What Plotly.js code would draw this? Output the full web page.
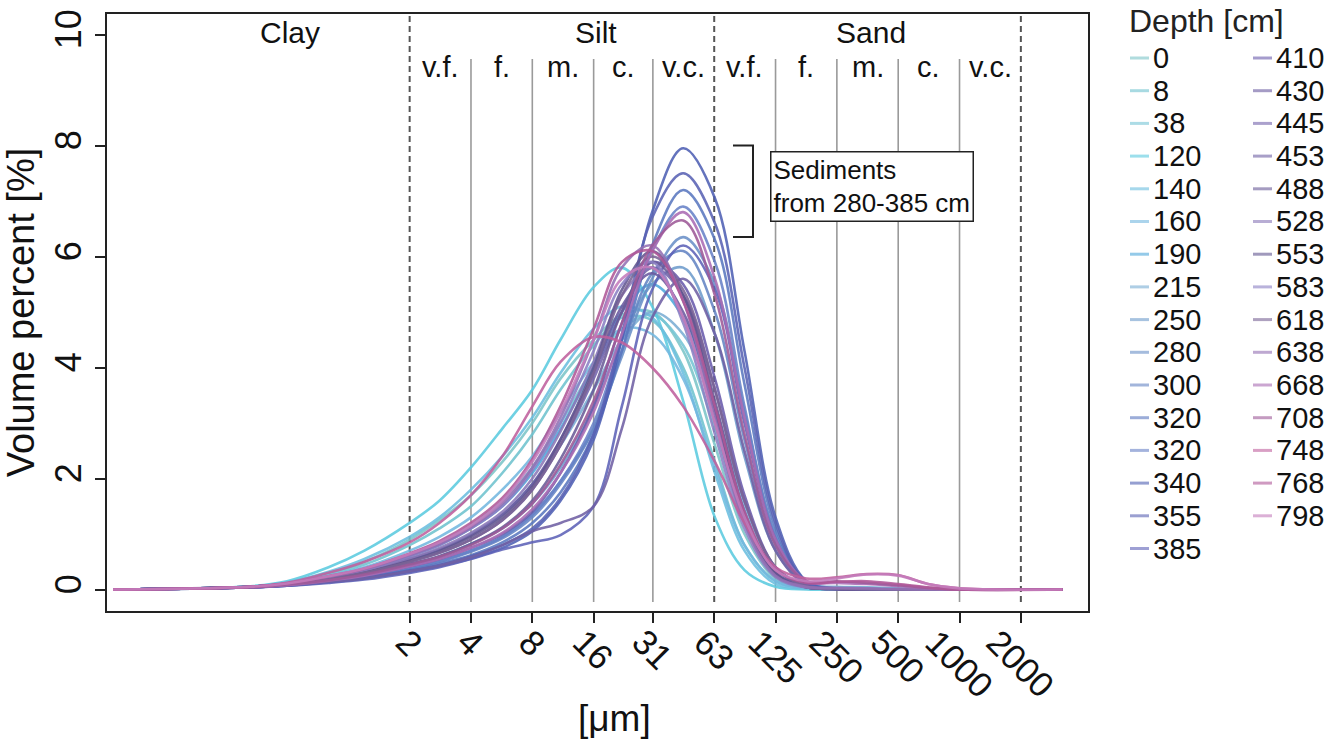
<!DOCTYPE html>
<html><head><meta charset="utf-8">
<script src="https://cdn.plot.ly/plotly-3.0.1.min.js"></script>
<style>body{margin:0;background:#fff}#chart{width:1335px;height:740px}</style>
</head><body><div id="chart"></div>
<script>
// grain sizes in micrometres
const sizes = [0.07,0.33,0.5,0.8,1.2,2,2.8,4,5.7,8,11,16,22,31,44,63,88,125,177,250,350,500,700,1000,3200];

const depths = ["0","8","38","120","140","160","190","215","250","280","300","320","320","340","355","385",
                "410","430","445","453","488","528","553","583","618","638","668","708","748","768","798"];
const colors = ["#7cc5c9","#6fc3cf","#76c6d6","#5ccbe0","#6cbfe0","#74b8e0","#4ea8dc","#7aaed4","#6e9ccc","#6a90c8",
                "#6585c4","#5b78c0","#6882c8","#4f60b4","#5a62b4","#5e62b8",
                "#6a5cac","#6a5aa0","#7464ac","#7060a4","#6a5c98","#8a78b8","#625690","#8c80c4","#7a6496","#9470b4",
                "#aa6cb4","#9e5a98","#c0609e","#b05898","#c47cbc"];

// volume percent per depth
const v0    = [0,0.05,0.12,0.3,0.5,0.9,1.25,1.7,2.3,3.0,3.8,4.5,4.95,5.0,4.3,2.6,1.0,0.2,0.05,0.03,0.02,0.01,0,0,0];
const v8    = [0,0.05,0.12,0.28,0.45,0.8,1.1,1.5,2.1,2.8,3.6,4.4,4.9,4.85,4.0,2.3,0.8,0.15,0.03,0.02,0.01,0,0,0,0];
const v38   = [0,0.05,0.1,0.22,0.36,0.62,0.85,1.15,1.6,2.2,3.0,4.0,4.7,4.95,4.4,2.9,1.2,0.3,0.06,0.04,0.03,0.01,0,0,0];
const v120  = [0,0.06,0.15,0.4,0.7,1.2,1.6,2.2,2.9,3.6,4.5,5.45,5.8,5.1,3.4,1.3,0.35,0.05,0,0,0,0,0,0,0];
const v140  = [0,0.05,0.13,0.32,0.55,0.95,1.3,1.8,2.4,3.1,3.9,4.7,5.1,4.9,3.9,2.1,0.7,0.1,0.02,0.02,0.01,0,0,0,0];
const v160  = [0,0.05,0.11,0.25,0.4,0.7,0.95,1.3,1.8,2.4,3.2,4.1,4.7,4.6,3.8,2.2,0.8,0.15,0.03,0.03,0.02,0.01,0,0,0];
const v190  = [0,0.05,0.1,0.22,0.35,0.6,0.8,1.1,1.5,2.1,2.9,4.0,5.0,5.5,4.9,3.2,1.3,0.3,0.05,0.02,0.01,0,0,0,0];
const v215  = [0,0.05,0.1,0.2,0.32,0.55,0.72,1.0,1.35,1.9,2.6,3.6,4.5,5.0,4.6,3.3,1.5,0.4,0.08,0.05,0.04,0.02,0,0,0];
const v250  = [0,0.04,0.09,0.18,0.28,0.45,0.6,0.82,1.1,1.55,2.2,3.3,4.5,5.5,5.8,4.6,2.4,0.7,0.1,0.02,0.01,0,0,0,0];
const v280  = [0,0.04,0.08,0.16,0.25,0.4,0.52,0.7,0.95,1.35,1.95,2.9,4.2,5.6,6.35,5.5,3.2,1.0,0.15,0.02,0,0,0,0,0];
const v300  = [0,0.04,0.08,0.15,0.24,0.38,0.5,0.68,0.92,1.3,1.9,2.9,4.3,5.7,6.1,5.0,2.7,0.8,0.1,0.02,0,0,0,0,0];
const v320a = [0,0.04,0.08,0.15,0.23,0.36,0.47,0.62,0.85,1.2,1.75,2.8,4.3,6.2,7.2,6.3,3.7,1.1,0.12,0.01,0,0,0,0,0];
const v320b = [0,0.04,0.08,0.16,0.25,0.4,0.52,0.7,0.95,1.35,1.95,3.0,4.5,6.1,6.9,5.9,3.3,0.95,0.1,0.01,0,0,0,0,0];
const v340  = [0,0.04,0.07,0.13,0.2,0.32,0.42,0.56,0.75,1.05,1.6,2.7,4.5,6.8,7.95,7.05,4.3,1.3,0.15,0.01,0,0,0,0,0];
const v355  = [0,0.04,0.07,0.14,0.21,0.34,0.44,0.6,0.8,1.1,1.65,2.8,4.6,6.7,7.5,6.6,4.0,1.2,0.12,0.01,0,0,0,0,0];
const v385  = [0,0.04,0.07,0.12,0.18,0.3,0.4,0.55,0.72,0.85,0.98,1.5,3.3,5.4,6.2,5.4,3.0,0.9,0.1,0.01,0,0,0,0,0];
const v410  = [0,0.04,0.08,0.16,0.25,0.42,0.55,0.75,1.0,1.4,2.1,3.3,4.8,5.9,5.5,3.8,1.7,0.4,0.05,0.01,0,0,0,0,0];
const v430  = [0,0.05,0.1,0.2,0.32,0.55,0.72,0.98,1.35,1.9,2.7,3.9,5.1,5.7,5.0,3.2,1.3,0.3,0.04,0.01,0,0,0,0,0];
const v445  = [0,0.05,0.1,0.19,0.3,0.5,0.66,0.9,1.25,1.8,2.6,3.8,5.0,5.8,5.3,3.6,1.6,0.4,0.05,0.01,0,0,0,0,0];
const v453  = [0,0.04,0.08,0.14,0.2,0.33,0.43,0.58,0.8,1.05,1.2,1.5,2.9,4.9,5.6,4.6,2.5,0.7,0.08,0.01,0,0,0,0,0];
const v488  = [0,0.05,0.09,0.18,0.28,0.46,0.6,0.82,1.12,1.6,2.35,3.6,5.0,5.9,5.3,3.4,1.4,0.3,0.04,0.01,0,0,0,0,0];
const v528  = [0,0.05,0.1,0.21,0.33,0.56,0.75,1.02,1.4,2.0,2.85,4.1,5.3,5.8,4.9,3.0,1.2,0.25,0.04,0.02,0.01,0,0,0,0];
const v553  = [0,0.05,0.1,0.2,0.31,0.52,0.69,0.95,1.3,1.85,2.7,4.0,5.4,6.1,5.3,3.3,1.3,0.28,0.04,0.01,0,0,0,0,0];
const v583  = [0,0.05,0.11,0.22,0.35,0.6,0.8,1.1,1.5,2.15,3.0,4.3,5.5,5.9,4.8,2.8,1.1,0.22,0.04,0.02,0.01,0,0,0,0];
const v618  = [0,0.05,0.1,0.2,0.3,0.5,0.66,0.9,1.25,1.8,2.6,3.9,5.3,6.0,5.4,3.6,1.6,0.4,0.06,0.02,0.01,0,0,0,0];
const v638  = [0,0.05,0.11,0.23,0.36,0.62,0.82,1.12,1.55,2.2,3.1,4.5,5.8,6.2,5.2,3.1,1.2,0.25,0.05,0.03,0.02,0.01,0,0,0];
const v668  = [0,0.04,0.08,0.16,0.25,0.42,0.55,0.75,1.02,1.45,2.1,3.2,4.6,6.1,6.8,5.6,3.1,0.9,0.15,0.12,0.1,0.06,0.02,0,0];
const v708  = [0,0.04,0.09,0.17,0.27,0.45,0.59,0.8,1.1,1.55,2.25,3.4,4.8,6.2,6.65,5.3,2.8,0.8,0.15,0.15,0.12,0.08,0.03,0,0];
const v748  = [0,0.05,0.12,0.3,0.5,0.85,1.2,1.7,2.4,3.3,4.1,4.55,4.45,4.0,3.3,2.3,1.2,0.4,0.2,0.22,0.28,0.26,0.1,0.02,0];
const v768  = [0,0.05,0.11,0.24,0.38,0.65,0.87,1.2,1.65,2.35,3.3,4.7,5.9,6.1,5.2,3.3,1.4,0.35,0.12,0.14,0.15,0.1,0.04,0,0];
const v798  = [0,0.05,0.11,0.24,0.38,0.64,0.85,1.15,1.6,2.3,3.2,4.5,5.6,5.8,4.9,3.0,1.3,0.35,0.15,0.2,0.27,0.25,0.1,0.02,0];

const series = [v0,v8,v38,v120,v140,v160,v190,v215,v250,v280,v300,v320a,v320b,v340,v355,v385,
                v410,v430,v445,v453,v488,v528,v553,v583,v618,v638,v668,v708,v748,v768,v798];

// axis ticks and class boundaries
const tickVals   = [2,4,8,16,31.25,62.5,125,250,500,1000,2000];
const tickLabels = ["2","4","8","16","31","63","125","250","500","1000","2000"];
const yTicks     = [0,2,4,6,8,10];
const dashedBounds = [2,62.5,2000];
const solidBounds  = [4,8,16,31.25,125,250,500,1000];
const mainClasses  = ["Clay","Silt","Sand"];
const mainClassPos = [0.52,16.4,366];
const subClasses   = ["v.f.","f.","m.","c.","v.c.","v.f.","f.","m.","c.","v.c."];

const FONT = "Liberation Sans, Arial, Helvetica, sans-serif";
const X0PX=107, X1PX=1088, Y0PX=14, Y1PX=611;
const px2x = p => (p - X0PX)/(X1PX - X0PX);
const px2y = p => (Y1PX - p)/(Y1PX - Y0PX);

const traces = series.map((s,i) => ({
  x: sizes, y: s, type:'scatter', mode:'lines', name: depths[i],
  line:{color:colors[i], width:2.6, shape:'spline', smoothing:1},
  opacity:0.88, hoverinfo:'x+y+name'
}));

const shapes = [];
dashedBounds.forEach(v => shapes.push({type:'line', layer:'below', xref:'x', yref:'y', x0:v, x1:v, y0:-0.225, y1:10.37,
  line:{color:'#555', width:2, dash:'6px,4px'}}));
solidBounds.forEach(v => shapes.push({type:'line', layer:'below', xref:'x', yref:'y', x0:v, x1:v, y0:-0.225, y1:9.56,
  line:{color:'#9a9a9a', width:1.6}}));
// bracket for sediments 280-385 cm
shapes.push({type:'path', xref:'paper', yref:'y',
  path:`M ${px2x(733)},8.0 L ${px2x(753)},8.0 L ${px2x(753)},6.35 L ${px2x(733)},6.35`,
  line:{color:'#222', width:2}});

const annotations = [];
// x tick labels
tickVals.forEach((v,i) => annotations.push({x:Math.log10(v), xref:'x', y:0, yref:'paper', yshift:-8,
  xanchor:'center', yanchor:'top', textangle:45, text:tickLabels[i], showarrow:false,
  font:{family:FONT, size:35, color:'#111'}}));
// x title
annotations.push({x:px2x(614), xref:'paper', y:0, yref:'paper', yshift:-107, xanchor:'center', yanchor:'middle',
  text:'[μm]', showarrow:false, font:{family:FONT, size:37, color:'#111'}});
// class labels
mainClasses.forEach((c,i) => annotations.push({x:Math.log10(mainClassPos[i]), xref:'x', y:px2y(33), yref:'paper',
  xanchor:'center', yanchor:'middle', text:c, showarrow:false, font:{family:FONT, size:30, color:'#111'}}));
subClasses.forEach((c,i) => annotations.push({x:Math.log10(Math.sqrt(tickVals[i]*tickVals[i+1])), xref:'x', y:px2y(67), yref:'paper',
  xanchor:'center', yanchor:'middle', text:c, showarrow:false, font:{family:FONT, size:29, color:'#111'}}));
// sediment note
annotations.push({x:px2x(770), xref:'paper', y:px2y(151), yref:'paper', xanchor:'left', yanchor:'top', align:'left',
  text:'Sediments<br>from 280-385 cm', showarrow:false, bordercolor:'#222', borderwidth:1.5, borderpad:2, bgcolor:'#fff',
  font:{family:FONT, size:26, color:'#111'}});

// legend (two columns)
annotations.push({x:px2x(1127), xref:'paper', y:px2y(21), yref:'paper', xanchor:'left', yanchor:'middle',
  text:'Depth [cm]', showarrow:false, font:{family:FONT, size:32, color:'#222'}});
const perCol = 16;
depths.forEach((d,i) => {
  const col = i < perCol ? 0 : 1;
  const row = i < perCol ? i : i - perCol;
  const yc = 58 + row*32.7;
  const sx = col === 0 ? 1130 : 1253;
  shapes.push({type:'line', xref:'paper', yref:'paper', x0:px2x(sx), x1:px2x(sx+19), y0:px2y(yc), y1:px2y(yc),
    line:{color:colors[i], width:3}, opacity:0.6});
  annotations.push({x:px2x(sx+22), xref:'paper', y:px2y(yc), yref:'paper', xanchor:'left', yanchor:'middle',
    text:d, showarrow:false, borderpad:0, font:{family:FONT, size:29, color:'#111'}});
});

const layout = {
  width:1335, height:740,
  margin:{l:107, r:247, t:14, b:129},
  paper_bgcolor:'#fff', plot_bgcolor:'#fff',
  showlegend:false,
  font:{family:FONT, color:'#111'},
  xaxis:{type:'log', range:[-1.1845,3.6306], tickvals:tickVals, showticklabels:false,
    ticks:'outside', ticklen:10, tickwidth:2, tickcolor:'#222',
    showline:true, linecolor:'#222', linewidth:2, mirror:true, showgrid:false, zeroline:false},
  yaxis:{range:[-0.387,10.37], tickvals:yTicks, ticks:'outside', ticklen:10, tickwidth:2, tickcolor:'#222',
    tickangle:-90, tickfont:{family:FONT, size:36, color:'#111'},
    showline:true, linecolor:'#222', linewidth:2, mirror:true, showgrid:false, zeroline:false,
    title:{text:'Volume percent [%]', font:{family:FONT, size:38, color:'#111'}, standoff:2}},
  shapes:shapes, annotations:annotations
};

Plotly.newPlot('chart', traces, layout, {displayModeBar:false, staticPlot:false});
</script></body></html>
